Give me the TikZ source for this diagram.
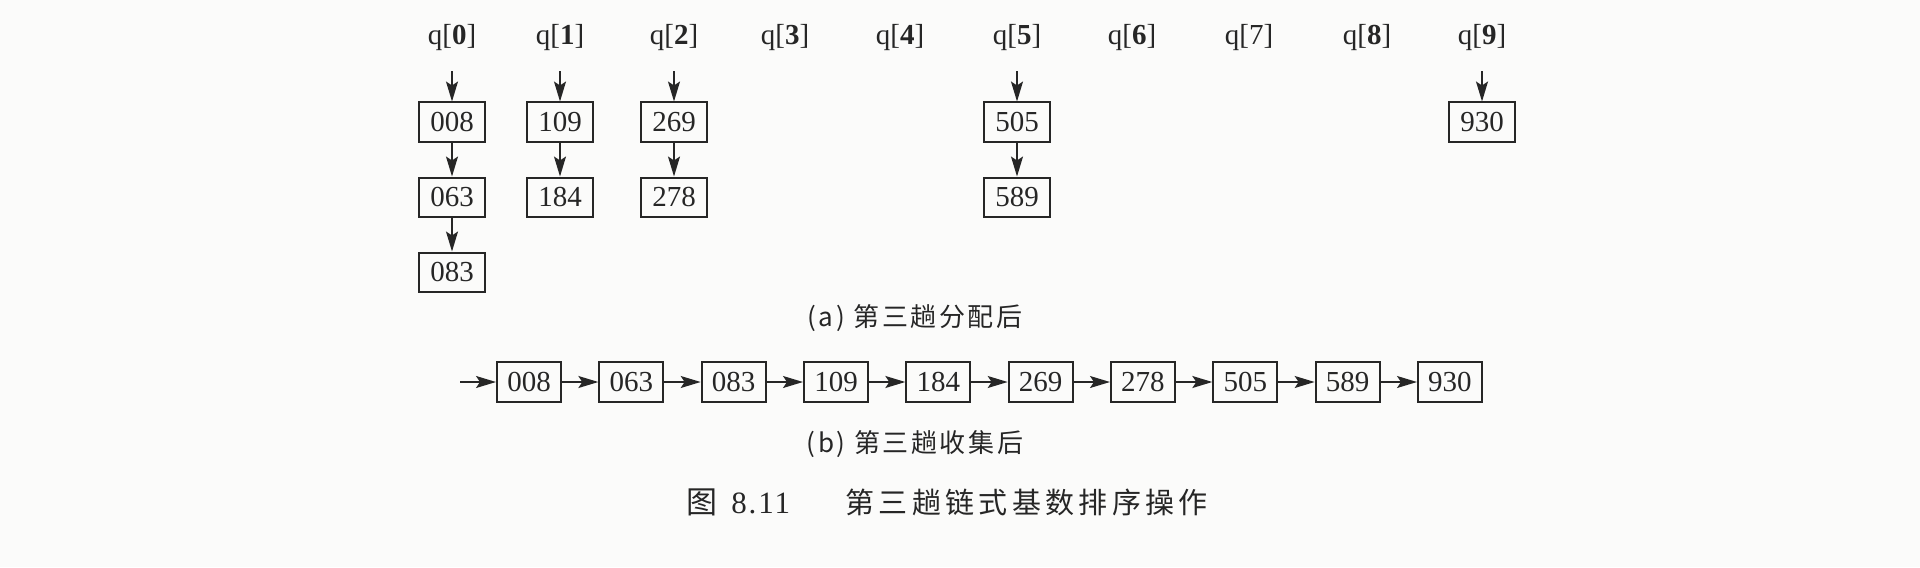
\documentclass[tikz,border=0pt]{standalone}
\usepackage{fontspec}
\setmainfont{Liberation Serif}
\newfontfamily\cjk{Noto Sans CJK SC}
\newfontfamily\cjksub[LetterSpace=10]{Noto Sans CJK SC}
\newfontfamily\cjkcap[LetterSpace=15]{Noto Sans CJK SC}
\newfontfamily\serifsp[LetterSpace=6]{Liberation Serif}
\usetikzlibrary{arrows.meta}
\definecolor{ink}{HTML}{262626}
\definecolor{paper}{HTML}{FBFBFA}
\begin{document}
\begin{tikzpicture}[x=0.5pt,y=-0.5pt,
  boxt/.style={draw=ink, line width=1pt, minimum width=33pt, minimum height=19.5pt, inner sep=0pt, text=ink, font=\fontsize{14.5}{14.5}\selectfont},
  boxb/.style={draw=ink, line width=1pt, minimum width=32pt, minimum height=20pt, inner sep=0pt, text=ink, font=\fontsize{14.5}{14.5}\selectfont},
  qlab/.style={inner sep=0pt, minimum height=33pt, text=ink, font=\fontsize{14.5}{14.5}\selectfont},
  arr/.style={draw=ink, line width=0.8pt, -{Stealth[length=10pt,width=6pt,inset=2pt]}},
  subcap/.style={text=ink, inner sep=0pt, font=\cjksub\fontsize{13}{13}\selectfont},
]
\fill[paper] (0,0) rectangle (1920,567);
\useasboundingbox (0,0) rectangle (1920,567);

% queue heads
\node[qlab] (q0) at (452,38) {q[\textbf{0}]};
\node[qlab] (q1) at (560,38) {q[\textbf{1}]};
\node[qlab] (q2) at (674,38) {q[\textbf{2}]};
\node[qlab] (q3) at (785,38) {q[\textbf{3}]};
\node[qlab] (q4) at (900,38) {q[\textbf{4}]};
\node[qlab] (q5) at (1017,38) {q[\textbf{5}]};
\node[qlab] (q6) at (1132,38) {q[\textbf{6}]};
\node[qlab] (q7) at (1249,38) {q[7]};
\node[qlab] (q8) at (1367,38) {q[\textbf{8}]};
\node[qlab] (q9) at (1482,38) {q[\textbf{9}]};

% distributed boxes
\node[boxt] (t008) at (452,122) {008};
\node[boxt] (t063) at (452,197) {063};
\node[boxt] (t083) at (452,272) {083};
\node[boxt] (t109) at (560,122) {109};
\node[boxt] (t184) at (560,197) {184};
\node[boxt] (t269) at (674,122) {269};
\node[boxt] (t278) at (674,197) {278};
\node[boxt] (t505) at (1017,122) {505};
\node[boxt] (t589) at (1017,197) {589};
\node[boxt] (t930) at (1482,122) {930};

\draw[arr] (q0) -- (t008);
\draw[arr] (t008) -- (t063);
\draw[arr] (t063) -- (t083);
\draw[arr] (q1) -- (t109);
\draw[arr] (t109) -- (t184);
\draw[arr] (q2) -- (t269);
\draw[arr] (t269) -- (t278);
\draw[arr] (q5) -- (t505);
\draw[arr] (t505) -- (t589);
\draw[arr] (q9) -- (t930);

\node[subcap] (capa) at (915,318) {(a) 第三趟分配后};

% collected list
\foreach \v [count=\i] in {008,063,083,109,184,269,278,505,589,930}
  \node[boxb] (b\i) at ({529+102.33*(\i-1)},382) {\v};
\coordinate (bs) at (460,382);
\draw[arr] (bs) -- (b1);
\foreach \i in {1,...,9} {
  \pgfmathtruncatemacro\j{\i+1}
  \draw[arr] (b\i) -- (b\j);
}

\node[subcap] (capb) at (915,444) {(b) 第三趟收集后};

% figure caption
\node[anchor=west, inner sep=0pt, text=ink, font=\fontsize{15.5}{15.5}\selectfont] (capn) at (686,502) {{\cjk 图}\hspace{7pt}{\serifsp 8.11}};
\node[anchor=west, inner sep=0pt, text=ink, font=\cjkcap\fontsize{14.5}{14.5}\selectfont] (capt) at (845,502) {第三趟链式基数排序操作};
\end{tikzpicture}
\end{document}
